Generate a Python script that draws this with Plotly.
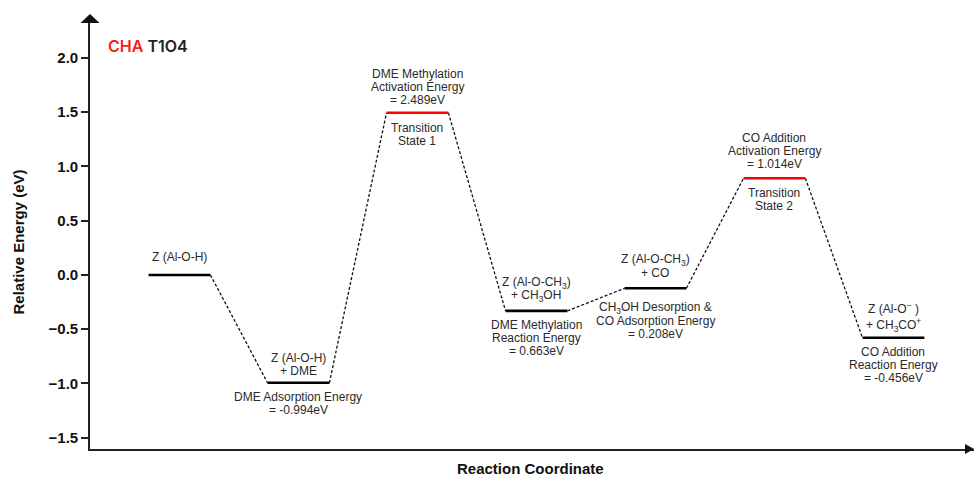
import plotly.graph_objects as go

# ---------------- data ----------------
energies = [0.0, -0.994, 1.495, -0.331, -0.123, 0.891, -0.579]
is_ts = [False, False, True, False, False, True, False]
above_labels = [
    "Z (Al-O-H)",
    "Z (Al-O-H)<br>+ DME",
    "DME Methylation<br>Activation Energy<br>= 2.489eV",
    "Z (Al-O-CH<sub>3</sub>)<br>+ CH<sub>3</sub>OH",
    "Z (Al-O-CH<sub>3</sub>)<br>+ CO",
    "CO Addition<br>Activation Energy<br>= 1.014eV",
    "Z (Al-O<sup>−</sup> )<br>+ CH<sub>3</sub>CO<sup>+</sup>",
]
below_labels = [
    "",
    "DME Adsorption Energy<br>= -0.994eV",
    "Transition<br>State 1",
    "DME Methylation<br>Reaction Energy<br>= 0.663eV",
    "CH<sub>3</sub>OH Desorption &<br>CO Adsorption Energy<br>= 0.208eV",
    "Transition<br>State 2",
    "CO Addition<br>Reaction Energy<br>= -0.456eV",
]
y_ticks = [-1.5, -1.0, -0.5, 0.0, 0.5, 1.0, 1.5, 2.0]
y_tick_text = ["−1.5", "−1.0", "−0.5", "0.0", "0.5", "1.0", "1.5", "2.0"]

# ---------------- style ----------------
HALF = 0.26
LINE_GAP = 13.0                                    # px between text lines (below labels)
ABOVE_GAP = [13, 13, 13, 13, 13, 13, 17]           # px between lines of above labels
ABOVE_OFF = [18, 12, 13, 15, 15, 14, 13]           # px from level to centre of nearest line above
BELOW_OFF = [14, 14, 15, 14, 20, 15, 14]           # px from level to centre of first line below
LABEL_FONT = dict(family="Liberation Sans, Arial, sans-serif", size=12, color="#2a2a2a")

fig = go.Figure()

n = len(energies)
# connectors
for i in range(n - 1):
    fig.add_trace(go.Scatter(
        x=[i + HALF, i + 1 - HALF], y=[energies[i], energies[i + 1]],
        mode="lines", line=dict(color="#111111", width=1.3, dash="3px,2px"),
        hoverinfo="skip", showlegend=False))
# levels
for i, e in enumerate(energies):
    fig.add_trace(go.Scatter(
        x=[i - HALF, i + HALF], y=[e, e], mode="lines",
        line=dict(color="#ff0000" if is_ts[i] else "#000000", width=2.6),
        hoverinfo="skip", showlegend=False))

annotations = []
for i, e in enumerate(energies):
    if above_labels[i]:
        lines = above_labels[i].split("<br>")
        m = len(lines)
        for k, t in enumerate(lines):
            annotations.append(dict(x=i, y=e, xref="x", yref="y", text=t,
                                    showarrow=False, yanchor="middle",
                                    yshift=ABOVE_OFF[i] + (m - 1 - k) * ABOVE_GAP[i],
                                    font=LABEL_FONT, align="center"))
    if below_labels[i]:
        lines = below_labels[i].split("<br>")
        for k, t in enumerate(lines):
            annotations.append(dict(x=i, y=e, xref="x", yref="y", text=t,
                                    showarrow=False, yanchor="middle",
                                    yshift=-(BELOW_OFF[i] + k * LINE_GAP),
                                    font=LABEL_FONT, align="center"))

# title
annotations.append(dict(
    x=0, y=1, xref="paper", yref="paper", xanchor="left", yanchor="middle",
    xshift=16, yshift=-26, showarrow=False,
    text="<span style='color:#ff1a1a'>CHA</span> <span style='color:#222222'>T1O4</span>",
    font=dict(family="Inter, Lato, sans-serif", size=16, weight=600)))
# axis titles
annotations.append(dict(
    x=0, y=0.5, xref="paper", yref="paper", xanchor="center", yanchor="middle",
    xshift=-72, yshift=-8, textangle=-90, showarrow=False, text="<b>Relative Energy (eV)</b>",
    font=dict(family="Liberation Sans, Arial, sans-serif", size=15, color="#111111")))
annotations.append(dict(
    x=0.498, y=0, xref="paper", yref="paper", xanchor="center", yanchor="middle",
    yshift=-19, showarrow=False, text="<b>Reaction Coordinate</b>",
    font=dict(family="Liberation Sans, Arial, sans-serif", size=15, color="#111111")))

shapes = [
    # y-axis arrow head
    dict(type="path", xref="paper", yref="paper", xsizemode="pixel", ysizemode="pixel",
         xanchor=0, yanchor=1, path="M-9.5,-3 L9.5,-3 L0,6 Z",
         fillcolor="#111111", line=dict(width=0)),
    # x-axis arrow head
    dict(type="path", xref="paper", yref="paper", xsizemode="pixel", ysizemode="pixel",
         xanchor=1, yanchor=0, path="M-9,5 L0,0 L-9,-5 Z",
         fillcolor="#111111", line=dict(width=0)),
]

fig.update_layout(
    width=974, height=478,
    margin=dict(l=90, r=0, t=20, b=29),
    plot_bgcolor="white", paper_bgcolor="white",
    annotations=annotations, shapes=shapes,
    xaxis=dict(range=[-0.752, 6.677], showgrid=False, zeroline=False, showticklabels=False,
               ticks="", showline=True, linecolor="#222222", linewidth=1.6, fixedrange=True),
    yaxis=dict(range=[-1.604, 2.35], showgrid=False, zeroline=False,
               tickvals=y_ticks, ticktext=y_tick_text, ticks="outside", ticklen=7,
               tickwidth=1.6, tickcolor="#222222",
               tickfont=dict(family="Liberation Sans, Arial, sans-serif", size=15, color="#111111", weight="bold"),
               showline=True, linecolor="#222222", linewidth=1.6, fixedrange=True),
)

fig.write_html("out.html")
